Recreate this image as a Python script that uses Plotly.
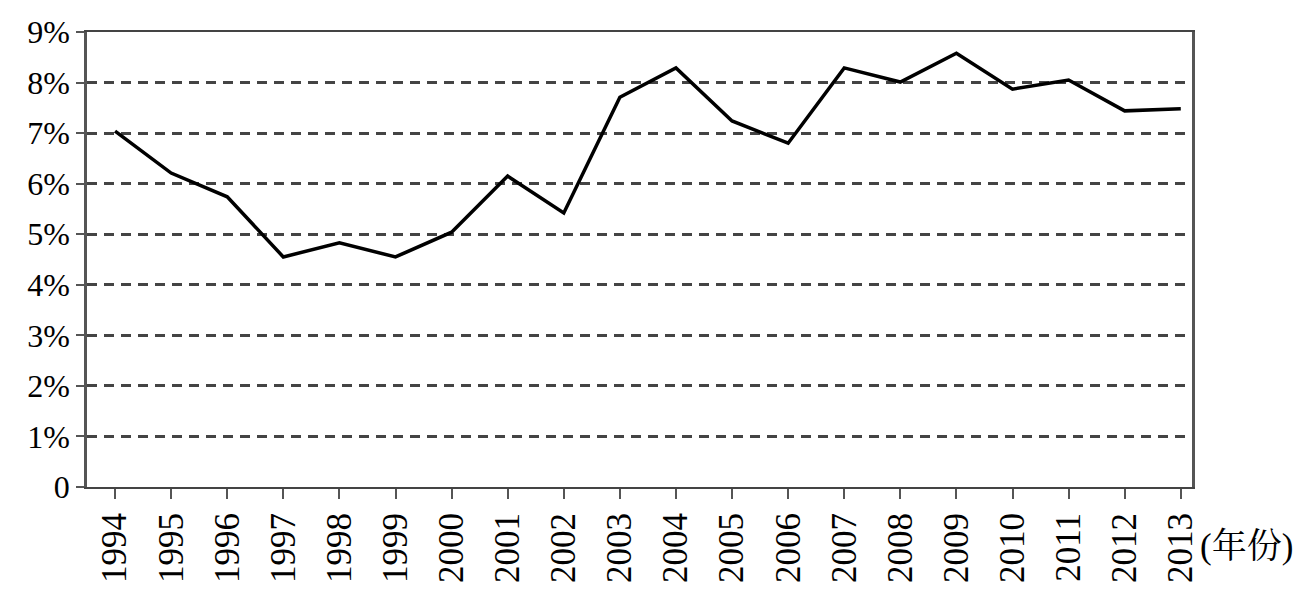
import plotly.graph_objects as go

years = ["1994", "1995", "1996", "1997", "1998", "1999", "2000", "2001", "2002", "2003",
         "2004", "2005", "2006", "2007", "2008", "2009", "2010", "2011", "2012", "2013"]
values = [7.04, 6.21, 5.74, 4.55, 4.83, 4.55, 5.04, 6.15, 5.42, 7.71,
          8.29, 7.24, 6.80, 8.29, 8.01, 8.58, 7.87, 8.05, 7.44, 7.48]
y_tickvals = [0, 1, 2, 3, 4, 5, 6, 7, 8, 9]
y_ticktext = ["0", "1%", "2%", "3%", "4%", "5%", "6%", "7%", "8%", "9%"]
x_unit_label = "(年份)"

serif = "Liberation Serif, Times New Roman, serif"

fig = go.Figure()
fig.add_trace(go.Scatter(
    x=list(range(len(years))), y=values, mode="lines",
    line=dict(color="#000000", width=3.5), showlegend=False, hoverinfo="skip"))

fig.update_layout(
    width=1311, height=606,
    margin=dict(l=79, r=127, t=24, b=127, autoexpand=False),
    paper_bgcolor="white", plot_bgcolor="white",
    font=dict(family=serif, color="#000000"),
)

fig.update_xaxes(
    range=[-0.5, 19.2],
    tickmode="array", tickvals=list(range(len(years))), ticktext=years,
    tickangle=-90, tickfont=dict(family=serif, size=35, color="#000000"),
    tickson="boundaries", ticks="outside", ticklen=10, tickwidth=2, tickcolor="#555555",
    showline=True, linecolor="#444444", linewidth=2, mirror=True,
    showgrid=False, zeroline=False, automargin=False,
)

fig.update_yaxes(
    range=[0, 9],
    tickmode="array", tickvals=y_tickvals, ticktext=y_ticktext,
    tickfont=dict(family=serif, size=32, color="#000000"),
    ticks="outside", ticklen=8, tickwidth=2, tickcolor="#555555",
    showline=True, linecolor="#555555", linewidth=2.5, mirror=True,
    showgrid=True, gridcolor="#444444", gridwidth=2.5, griddash="10px,7px",
    zeroline=False, automargin=False,
)

fig.add_annotation(
    text=x_unit_label, xref="paper", yref="paper",
    x=1.0, y=-0.13, xanchor="left", yanchor="middle", xshift=6,
    showarrow=False,
    font=dict(family="Liberation Serif, Noto Serif CJK SC, Noto Sans CJK SC", size=35, color="#000000"),
)

fig.write_html("out.html")
